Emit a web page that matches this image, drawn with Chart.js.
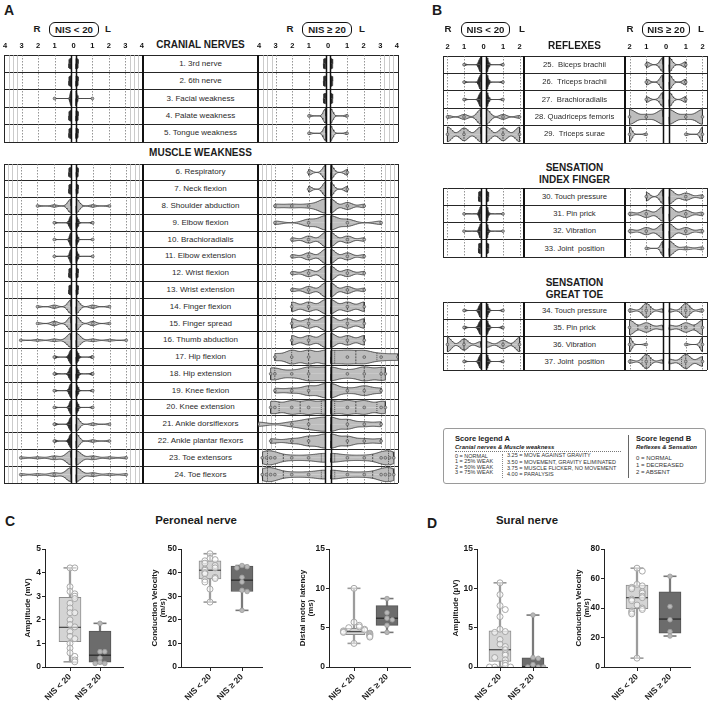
<!DOCTYPE html>
<html>
<head>
<meta charset="utf-8">
<title>Neuropathy scores</title>
<script src="https://cdn.jsdelivr.net/npm/chart.js@4.4.1/dist/chart.umd.min.js"></script>
<style>
  body { margin: 0; background: #fff; }
  #fig { position: relative; width: 708px; height: 703px; overflow: hidden;
         font-family: "Liberation Sans", Arial, sans-serif; color: #1b1b1b; }
  #fig div, #fig canvas { position: absolute; }
</style>
</head>
<body>
<div id="fig"></div>
<script>
const FONT = '"Liberation Sans", Arial, sans-serif';
Chart.defaults.font.family = FONT;

// ---------- panels A and B: patients per score (index into the score list) ----------
const scoresA = [0, 1, 2, 3, 3.25, 3.5, 3.75, 4];
const scoresB = [0, 1, 2];

const cranialLabels = ["1. 3rd nerve", "2. 6th nerve", "3. Facial weakness", "4. Palate weakness", "5. Tongue weakness"];
const cranialLowR = [[23], [23], [22, 1], [23], [23]];
const cranialLowL = [[23], [23], [22, 1], [23], [23]];
const cranialHighR = [[7], [7], [7], [6, 1], [6, 1]];
const cranialHighL = [[7], [7], [7], [6, 1], [6, 1]];

const muscleLabels = ["6. Respiratory", "7. Neck flexion", "8. Shoulder abduction", "9. Elbow flexion",
  "10. Brachioradialis", "11. Elbow extension", "12. Wrist flexion", "13. Wrist extension",
  "14. Finger flexion", "15. Finger spread", "16. Thumb abduction", "17. Hip flexion",
  "18. Hip extension", "19. Knee flexion", "20. Knee extension", "21. Ankle dorsiflexors",
  "22. Ankle plantar flexors", "23. Toe extensors", "24. Toe flexors"];
const muscleLowR = [[23], [23], [18, 3, 2], [20, 3], [21, 2], [21, 2], [23], [23], [17, 4, 2], [16, 5, 2],
  [17, 3, 2, 1], [19, 4], [19, 4], [20, 3], [20, 3], [19, 4], [19, 4], [15, 4, 2, 2], [15, 4, 2, 2]];
const muscleLowL = [[23], [23], [18, 3, 2], [20, 3], [21, 2], [21, 2], [23], [23], [17, 4, 2], [16, 5, 2],
  [17, 3, 2, 1], [19, 4], [19, 4], [20, 3], [20, 3], [18, 3, 2], [18, 3, 2], [15, 4, 2, 2], [15, 4, 2, 2]];
const muscleHighR = [[5, 2], [5, 2], [4, 1, 1, 1], [4, 2, 0, 1], [4, 2, 1], [4, 2, 1], [4, 2, 1], [4, 2, 1],
  [3, 2, 2], [3, 2, 2], [3, 2, 2], [2, 2, 2, 1], [2, 2, 1, 1, 1], [3, 2, 1, 1], [2, 2, 2, 1, 1],
  [3, 2, 1, 0, 0, 0, 0, 1], [3, 2, 1, 0, 1], [2, 1, 1, 1, 1, 1, 1], [2, 1, 1, 1, 1, 1, 1]];
const muscleHighL = [[5, 2], [5, 2], [4, 2, 1], [4, 2, 0, 1], [4, 2, 1], [4, 2, 1], [4, 2, 1], [4, 2, 1],
  [3, 2, 2], [3, 2, 2], [3, 2, 2], [2, 2, 2, 1, 0, 0, 0, 1], [2, 1, 2, 1, 1], [3, 1, 2, 1], [2, 2, 2, 1, 1],
  [3, 2, 1, 1], [3, 2, 1, 1], [2, 1, 1, 1, 1, 1, 1], [2, 1, 1, 1, 1, 1, 1]];

const reflexLabels = ["25.  Biceps brachii", "26.  Triceps brachii", "27.  Brachioradialis", "28. Quadriceps femoris", "29.  Triceps surae"];
const reflexLowR = [[20, 3], [20, 3], [20, 3], [15, 5, 3], [8, 7, 8]];
const reflexLowL = [[20, 3], [20, 3], [20, 3], [15, 5, 3], [8, 7, 8]];
const reflexHighR = [[5, 2], [5, 2], [5, 2], [3, 1, 3], [0, 1, 6]];
const reflexHighL = [[5, 2], [5, 2], [5, 2], [3, 1, 3], [0, 1, 6]];

const indexLabels = ["30. Touch pressure", "31. Pin prick", "32. Vibration", "33. Joint  position"];
const indexLowR = [[23], [21, 2], [21, 2], [23]];
const indexLowL = [[23], [21, 2], [21, 2], [23]];
const indexHighR = [[5, 3], [4, 2, 1], [4, 2, 1], [6, 1]];
const indexHighL = [[4, 2, 1], [4, 2, 1], [4, 2, 1], [5, 1, 1]];

const toeLabels = ["34. Touch pressure", "35. Pin prick", "36. Vibration", "37. Joint  position"];
const toeLowR = [[20, 3], [19, 4], [4, 8, 10], [20, 3]];
const toeLowL = [[20, 3], [19, 4], [4, 6, 10], [20, 3]];
const toeHighR = [[1, 4, 1], [1, 2, 3], [0, 1, 6], [1, 4, 1]];
const toeHighL = [[1, 4, 1], [1, 2, 3], [0, 1, 6], [1, 3, 2]];

// ---------- panels C and D: box plots ----------
const groupNames = ["NIS < 20", "NIS \u2265 20"];
// [min, Q1, median, Q3, max]
const perAmpStats = [[0.22, 1.07, 1.68, 2.95, 4.2], [0.15, 0.2, 0.5, 1.52, 1.85]];
const perAmpLow = [4.2, 4.2, 3.4, 3.2, 3.1, 3.0, 2.9, 2.7, 2.5, 2.3, 2.3, 2.0, 1.8, 1.7, 1.5, 1.3, 1.2, 1.0, 0.8, 0.6, 0.45, 0.3, 0.22];
const perAmpHigh = [1.85, 0.65, 0.65, 0.38, 0.2, 0.15, 0.15];
const perCvStats = [[27.5, 37.3, 41, 45, 48], [24, 32, 36.8, 42.8, 43]];
const perCvLow = [48, 46, 45.5, 45, 44, 43, 42, 41.5, 41, 40, 39.5, 38, 37.5, 37, 36, 33, 27.5];
const perCvHigh = [43, 42.5, 42, 38, 36, 32.5, 32, 24];
const dmlStats = [[3, 4.1, 4.5, 4.9, 10], [4.4, 5.3, 6.2, 7.8, 8.7]];
const dmlLow = [10, 5.7, 5.3, 5.1, 5.0, 4.8, 4.7, 4.6, 4.5, 4.4, 4.3, 4.2, 4.1, 4.0, 3.9, 3.8, 3.0];
const dmlHigh = [8.7, 6.9, 6.2, 6.0, 5.3, 4.4];
const surAmpStats = [[0, 0.7, 2.2, 4.6, 10.7], [0, 0, 0.05, 1.15, 6.6]];
const surAmpLow = [10.7, 9.2, 7.8, 7.3, 6.4, 4.8, 4.5, 4.4, 3.5, 2.9, 2.6, 2.2, 1.7, 1.5, 1.2, 0.9, 0.5, 0.2, 0, 0, 0];
const surAmpHigh = [6.6, 1.2, 1.1, 0.3, 0, 0, 0];
const surCvStats = [[6, 39.5, 47, 55.5, 67], [21, 23, 32.5, 51, 61.5]];
const surCvLow = [67, 65, 56, 55, 54, 53, 51, 50, 48, 47, 46, 45, 42, 40, 39, 38, 37, 36, 6];
const surCvHigh = [61.5, 41, 32, 24, 21];

// ---------- helpers ----------
const fig = document.getElementById("fig");
function put(html, css) {
  const d = document.createElement("div");
  d.innerHTML = html;
  d.style.cssText = css;
  fig.appendChild(d);
  return d;
}
// text with its caps centred on y; align "c" centres on x, "l" starts at x
function txt(str, x, y, size, css, align) {
  const pos = align === "l" ? `left:${x}px;` : `left:${x - 150}px;width:300px;text-align:center;`;
  return put(str, pos + `top:${y - size / 2}px;height:${size}px;line-height:${size}px;font-size:${size}px;white-space:pre;${css || ""}`);
}
function hline(x1, x2, y, w, c) { put("", `left:${x1}px;top:${y - w / 2}px;width:${x2 - x1}px;height:${w}px;background:${c}`); }
function vline(x, y1, y2, w, c) { put("", `left:${x - w / 2}px;top:${y1}px;width:${w}px;height:${y2 - y1}px;background:${c}`); }
function canvasAt(left, top, w, h) {
  const c = document.createElement("canvas");
  c.width = w; c.height = h;
  c.style.cssText = `left:${left}px;top:${top}px;width:${w}px;height:${h}px`;
  fig.appendChild(c);
  return c;
}

// ---------- tables ----------
function table(t) {
  const n = t.labels.length, h = (t.bottom - t.top) / n;
  for (let i = 0; i <= n; i++) hline(t.left, t.right, t.top + i * h, 1, "#262626");
  vline(t.left, t.top, t.bottom, 1, "#262626");
  vline(t.right, t.top, t.bottom, 1, "#262626");
  vline(t.c1, t.top, t.bottom, 1.6, "#111");
  vline(t.c2, t.top, t.bottom, 1.6, "#111");
  t.labels.forEach((lab, i) => txt(lab, (t.c1 + t.c2) / 2, t.top + (i + 0.5) * h, t.fs, "color:#2a2a2a"));
}

// kernel density of one half violin, truncated at the data range
function density(scores, counts) {
  let n = 0, sum = 0, sum2 = 0, lo = Infinity, hi = -Infinity;
  const values = [];
  counts.forEach((c, k) => {
    if (c > 0) {
      n += c; sum += c * scores[k]; sum2 += c * scores[k] ** 2;
      lo = Math.min(lo, scores[k]); hi = Math.max(hi, scores[k]);
      for (let j = 0; j < c; j++) values.push(scores[k]);
    }
  });
  const mean = sum / n, sd = Math.sqrt(Math.max(sum2 / n - mean * mean, 0));
  let h = 0.55 * sd * Math.pow(n, -0.2), flat = false;
  if (sd < 1e-9) { h = 0.2; hi = lo + 0.13; flat = true; }
  h = Math.max(h, 0.06);
  const raw = s => {
    let d = 0;
    counts.forEach((c, k) => { if (c > 0) d += c * Math.exp(-0.5 * ((s - scores[k]) / h) ** 2); });
    return d;
  };
  const steps = Math.max(5, Math.round((hi - lo) / 0.04));
  const grid = [];
  for (let j = 0; j <= steps; j++) grid.push(lo + (hi - lo) * j / steps);
  const dmax = Math.max(...grid.map(raw));
  // quartiles, (n+1) rule
  const q = p => {
    const r = Math.min(Math.max(p * (n + 1) - 1, 0), n - 1), i = Math.floor(r);
    return i + 1 < n ? values[i] + (r - i) * (values[i + 1] - values[i]) : values[i];
  };
  return { lo, hi, flat, narrow: flat || h < 0.13, grid, at: s => raw(s) / dmax, quart: flat ? [] : [q(0.25), q(0.5), q(0.75)] };
}

function halfViolin(scores, counts, row, side, gap) {
  const v = density(scores, counts);
  const W = v.flat ? 0.3 : 0.42;
  const xs = s => side * (gap + s);
  const up = [{ x: xs(v.lo), y: row }], dn = [{ x: xs(v.lo), y: row }];
  v.grid.forEach(s => { const d = v.at(s); up.push({ x: xs(s), y: row - W * d }); dn.push({ x: xs(s), y: row + W * d }); });
  up.push({ x: xs(v.hi), y: row }); dn.push({ x: xs(v.hi), y: row });
  if (side < 0) { up.reverse(); dn.reverse(); }
  const col = v.narrow ? "#2a2a2a" : "#bdbdbd";
  const mk = data => ({ data, borderColor: "#333", borderWidth: 0.8, backgroundColor: col,
    fill: { value: row }, pointRadius: 0, tension: 0, order: 3 });
  const sets = [mk(up), mk(dn)];
  // median and quartile marks across the violin
  v.quart.forEach((s, i) => {
    if (s <= v.lo + 1e-6) return;
    const d = W * v.at(s);
    sets.push({ data: [{ x: xs(s), y: row - d }, { x: xs(s), y: row + d }], borderColor: "#333",
      borderWidth: 0.8, borderDash: i === 1 ? [2, 1] : [1, 1], pointRadius: 0, fill: false, order: 2 });
  });
  return sets;
}

function refPlugin(under, over) {
  const draw = (chart, list) => {
    const { ctx, chartArea } = chart, x = chart.scales.x;
    list.forEach(l => {
      const px = Math.round(x.getPixelForValue(l.v)) + 0.5;
      ctx.save();
      ctx.strokeStyle = l.c; ctx.lineWidth = l.w; ctx.setLineDash(l.d || []);
      ctx.beginPath(); ctx.moveTo(px, chartArea.top); ctx.lineTo(px, chartArea.bottom); ctx.stroke();
      ctx.restore();
    });
  };
  return { id: "refLines", beforeDatasetsDraw: c => draw(c, under), afterDatasetsDraw: c => draw(c, over) };
}

function violinChart(cfg) {
  const n = cfg.R.length, P = 6, axisH = cfg.ticks ? 14 : 0;
  const cv = canvasAt(cfg.left - P, cfg.top - axisH, Math.round(cfg.right - cfg.left) + 2 * P, Math.round(cfg.bottom - cfg.top) + axisH);
  const datasets = [], dots = [];
  [[cfg.R, -1], [cfg.L, 1]].forEach(([rows, side]) => {
    rows.forEach((counts, i) => {
      datasets.push(...halfViolin(cfg.scores, counts, i, side, cfg.gap));
      counts.forEach((c, k) => { if (c > 0 && cfg.scores[k] > 0) dots.push({ x: side * (cfg.gap + cfg.scores[k]), y: i }); });
    });
  });
  datasets.push({ data: dots, showLine: false, pointRadius: 1.4, pointBackgroundColor: "#b0b0b0",
    pointBorderColor: "#444", pointBorderWidth: 0.6, order: 1 });

  const maxScore = cfg.scores[cfg.scores.length - 1];
  const ints = [];
  for (let s = 1; s <= (maxScore > 2 ? 3 : 2); s++) ints.push(s);
  const under = [];
  ints.forEach(s => [-1, 1].forEach(sd => under.push({ v: sd * (cfg.gap + s), c: "#7a7a7a", w: 0.8, d: [1.5, 1.5] })));
  if (maxScore > 2) [3.25, 3.5, 3.75].forEach(s => [-1, 1].forEach(sd => under.push({ v: sd * (cfg.gap + s), c: "#b4b4b4", w: 0.7 })));
  const over = [{ v: -cfg.gap, c: "#111", w: 1.5 }, { v: cfg.gap, c: "#111", w: 1.5 }];

  const tickVals = [0];
  for (let s = 1; s <= Math.floor(maxScore); s++) tickVals.push(-(cfg.gap + s), cfg.gap + s);
  new Chart(cv, {
    type: "line",
    data: { datasets },
    options: {
      responsive: false, animation: false, events: [],
      layout: { autoPadding: false, padding: { left: P, right: P, top: 0, bottom: 0 } },
      plugins: { legend: { display: false }, tooltip: { enabled: false } },
      scales: {
        x: {
          type: "linear", min: -cfg.xMax, max: cfg.xMax, position: "top", display: cfg.ticks,
          grid: { display: false, drawTicks: false }, border: { display: false },
          afterBuildTicks: ax => { ax.ticks = tickVals.slice().sort((a, b) => a - b).map(v => ({ value: v })); },
          afterFit: ax => { ax.height = axisH; },
          ticks: { autoSkip: false, maxRotation: 0, padding: 5, color: "#111",
            font: { size: 7.5, weight: "bold" }, callback: v => String(Math.round(Math.abs(v))) }
        },
        y: { type: "linear", display: false, min: -0.5, max: n - 0.5, reverse: true }
      }
    },
    plugins: [refPlugin(under, over)]
  });
}

// ---------- box plots ----------
function swarm(vals, i, tol) {
  const placed = [];
  return vals.map(v => {
    const k = placed.filter(p => Math.abs(p - v) < tol).length;
    placed.push(v);
    const off = k === 0 ? 0 : (k % 2 ? 1 : -1) * Math.ceil(k / 2) * 0.16;
    return { x: i + off, y: v };
  });
}

function boxChart(cfg) {
  const top = 549, bottom = 667, padTop = 8, axisH = 40;
  const cv = canvasAt(cfg.axisX - cfg.yW, top - padTop, cfg.yW + (cfg.right - cfg.axisX) + 2, padTop + (bottom - top) + axisH);
  const [c0, c1] = cfg.cat;
  const xmin = -(c0 - cfg.axisX) / (c1 - c0), xmax = 1 + (cfg.right - c1) / (c1 - c0);
  const st = cfg.stats, tol = cfg.yMax / 28;
  const datasets = [
    { type: "scatter", order: 0, data: swarm(cfg.low, 0, tol), pointRadius: 3, pointBackgroundColor: "rgba(255,255,255,0.5)",
      pointBorderColor: "#a8a8a8", pointBorderWidth: 1 },
    { type: "scatter", order: 0, data: swarm(cfg.high, 1, tol), pointRadius: 2.3, pointBackgroundColor: "#b8b8b8",
      pointBorderColor: "#9c9c9c", pointBorderWidth: 0.8 },
    { type: "scatter", order: 1, data: st.map((s, i) => ({ x: i, y: s[2] })), pointStyle: "line", pointRadius: 11,
      pointBorderColor: ["#4d4d4d", "#2b2b2b"], pointBorderWidth: 1.3 },
    { type: "scatter", order: 2, data: st.flatMap((s, i) => [{ x: i, y: s[0] }, { x: i, y: s[4] }]), pointStyle: "line",
      pointRadius: 6.5, pointBorderColor: ["#9a9a9a", "#9a9a9a", "#777", "#777"], pointBorderWidth: 1.6 },
    { type: "bar", order: 3, grouped: false, data: st.map((s, i) => ({ x: i, y: [s[1], s[3]] })),
      backgroundColor: ["#d4d4d4", "#6c6c6c"], borderColor: ["#8c8c8c", "#555"], borderWidth: 1, borderSkipped: false, barThickness: 22 },
    { type: "bar", order: 4, grouped: false, data: st.map((s, i) => ({ x: i, y: [s[0], s[4]] })),
      backgroundColor: ["#9c9c9c", "#7a7a7a"], barThickness: 1.6 }
  ];
  new Chart(cv, {
    type: "bar",
    data: { datasets },
    options: {
      responsive: false, animation: false, events: [],
      layout: { autoPadding: false, padding: { left: 0, right: 2, top: padTop, bottom: 0 } },
      plugins: { legend: { display: false }, tooltip: { enabled: false } },
      scales: {
        x: {
          type: "linear", min: xmin, max: xmax, offset: false,
          afterBuildTicks: ax => { ax.ticks = [{ value: 0 }, { value: 1 }]; },
          afterFit: ax => { ax.height = axisH; },
          grid: { display: true, offset: false, drawOnChartArea: false, drawTicks: true, tickLength: 4, color: "#222" },
          border: { display: true, color: "#222", width: 1 },
          ticks: { autoSkip: false, minRotation: 45, maxRotation: 45, padding: 1, color: "#1b1b1b",
            font: { size: 8.5, weight: "bold" }, callback: v => groupNames[v] }
        },
        y: {
          min: 0, max: cfg.yMax,
          afterFit: ax => { ax.width = cfg.yW; },
          ticks: { stepSize: cfg.step, padding: 1, color: "#1b1b1b", font: { size: 8.5, weight: "bold" } },
          grid: { display: true, drawOnChartArea: false, drawTicks: true, tickLength: 3, color: "#222" },
          border: { display: true, color: "#222", width: 1 },
          title: { display: true, text: cfg.title, color: "#1b1b1b", font: { size: 8, weight: "bold", lineHeight: 1.1 }, padding: { top: 4, bottom: 0 } }
        }
      }
    }
  });
}

// ---------- panel A ----------
txt("A", 4, 10, 14, "font-weight:bold", "l");
function nisHeader(rx, bx, bw, lx, label) {
  txt("R", rx, 29, 9.7, "font-weight:bold");
  put(label, `left:${bx}px;top:22px;width:${bw}px;height:13px;line-height:13px;border:1.2px solid #111;border-radius:6px;text-align:center;font-size:9.7px;font-weight:bold;white-space:pre`);
  txt("L", lx, 29, 9.7, "font-weight:bold");
}
nisHeader(37, 49, 48, 108, groupNames[0]);
nisHeader(290, 302, 48, 362, groupNames[1]);
txt("CRANIAL NERVES", 200.5, 45, 10, "font-weight:bold");
txt("MUSCLE WEAKNESS", 200.5, 153, 10, "font-weight:bold");

const aCols = { left: 4, right: 398, c1: 143, c2: 258, fs: 8 };
table({ ...aCols, top: 55, bottom: 142, labels: cranialLabels });
table({ ...aCols, top: 164, bottom: 483, labels: muscleLabels });
const aL = { left: 4, right: 143, xMax: 4.15, gap: 0.15, scores: scoresA };
const aR = { left: 258, right: 398, xMax: 4.15, gap: 0.15, scores: scoresA };
violinChart({ ...aL, top: 55, bottom: 142, R: cranialLowR, L: cranialLowL, ticks: true });
violinChart({ ...aR, top: 55, bottom: 142, R: cranialHighR, L: cranialHighL, ticks: true });
violinChart({ ...aL, top: 164, bottom: 483, R: muscleLowR, L: muscleLowL, ticks: false });
violinChart({ ...aR, top: 164, bottom: 483, R: muscleHighR, L: muscleHighL, ticks: false });

// ---------- panel B ----------
txt("B", 432, 10, 14, "font-weight:bold", "l");
nisHeader(448, 461, 47, 522, groupNames[0]);
nisHeader(630, 642, 46, 701, groupNames[1]);
txt("REFLEXES", 574.5, 46, 10, "font-weight:bold");
txt("SENSATION", 574.5, 168, 10, "font-weight:bold");
txt("INDEX FINGER", 574.5, 180, 10, "font-weight:bold");
txt("SENSATION", 574.5, 283, 10, "font-weight:bold");
txt("GREAT TOE", 574.5, 295, 10, "font-weight:bold");

const bCols = { left: 443, right: 707, c1: 524, c2: 625, fs: 7.7 };
table({ ...bCols, top: 56, bottom: 143, labels: reflexLabels });
table({ ...bCols, top: 188, bottom: 257, labels: indexLabels });
table({ ...bCols, top: 302, bottom: 370, labels: toeLabels });
const bL = { left: 443, right: 524, xMax: 2.45, gap: 0.18, scores: scoresB };
const bR = { left: 625, right: 707, xMax: 2.45, gap: 0.18, scores: scoresB };
violinChart({ ...bL, top: 56, bottom: 143, R: reflexLowR, L: reflexLowL, ticks: true });
violinChart({ ...bR, top: 56, bottom: 143, R: reflexHighR, L: reflexHighL, ticks: true });
violinChart({ ...bL, top: 188, bottom: 257, R: indexLowR, L: indexLowL, ticks: false });
violinChart({ ...bR, top: 188, bottom: 257, R: indexHighR, L: indexHighL, ticks: false });
violinChart({ ...bL, top: 302, bottom: 370, R: toeLowR, L: toeLowL, ticks: false });
violinChart({ ...bR, top: 302, bottom: 370, R: toeHighR, L: toeHighL, ticks: false });

// ---------- score legend ----------
put("", "left:443px;top:428px;width:263px;height:56px;border:1px solid #9a9a9a;border-radius:3px;box-sizing:border-box");
txt("Score legend A", 455, 439, 7.6, "font-weight:bold", "l");
txt("Cranial nerves &amp; Muscle weakness", 455, 447, 6, "font-weight:bold;font-style:italic", "l");
put("", "left:455px;top:451px;width:166px;height:0;border-top:1px dotted #777");
["0 = NORMAL", "1 = 25% WEAK", "2 = 50% WEAK", "3 = 75% WEAK"].forEach((s, i) => txt(s, 455, 456.7 + i * 5.4, 5.5, "color:#333", "l"));
put("", "left:502px;top:454px;width:0;height:24px;border-left:1px dotted #888");
["3.25 = MOVE AGAINST GRAVITY", "3.50 = MOVEMENT, GRAVITY ELIMINATED", "3.75 = MUSCLE FLICKER, NO MOVEMENT", "4.00 = PARALYSIS"]
  .forEach((s, i) => txt(s, 507, 456 + i * 6.3, 5.5, "color:#333", "l"));
vline(628, 435, 478, 1, "#666");
txt("Score legend B", 636, 439, 7.6, "font-weight:bold", "l");
txt("Reflexes &amp; Sensation", 636, 447, 6, "font-weight:bold;font-style:italic", "l");
["0 = NORMAL", "1 = DECREASED", "2 = ABSENT"].forEach((s, i) => txt(s, 636, 458.3 + i * 6.7, 6, "color:#333", "l"));

// ---------- panels C and D ----------
txt("C", 5, 521, 14, "font-weight:bold", "l");
txt("D", 427, 523, 14, "font-weight:bold", "l");
txt("Peroneal nerve", 196, 521, 11.4, "font-weight:bold");
txt("Sural nerve", 527, 521, 11.4, "font-weight:bold");

boxChart({ axisX: 45, right: 123, cat: [70, 100], yW: 26, yMax: 5, step: 1, title: "Amplitude (mV)", stats: perAmpStats, low: perAmpLow, high: perAmpHigh });
boxChart({ axisX: 181, right: 262, cat: [210, 242], yW: 35, yMax: 50, step: 10, title: ["Conduction Velocity", "(m/s)"], stats: perCvStats, low: perCvLow, high: perCvHigh });
boxChart({ axisX: 329, right: 410, cat: [354, 387], yW: 35, yMax: 15, step: 5, title: ["Distal motor latency", "(ms)"], stats: dmlStats, low: dmlLow, high: dmlHigh });
boxChart({ axisX: 477, right: 547, cat: [500, 533], yW: 30, yMax: 15, step: 5, title: "Amplitude (\u03bcV)", stats: surAmpStats, low: surAmpLow, high: surAmpHigh });
boxChart({ axisX: 604, right: 690, cat: [637, 670], yW: 34, yMax: 80, step: 20, title: ["Conduction Velocity", "(m/s)"], stats: surCvStats, low: surCvLow, high: surCvHigh });
</script>
</body>
</html>
